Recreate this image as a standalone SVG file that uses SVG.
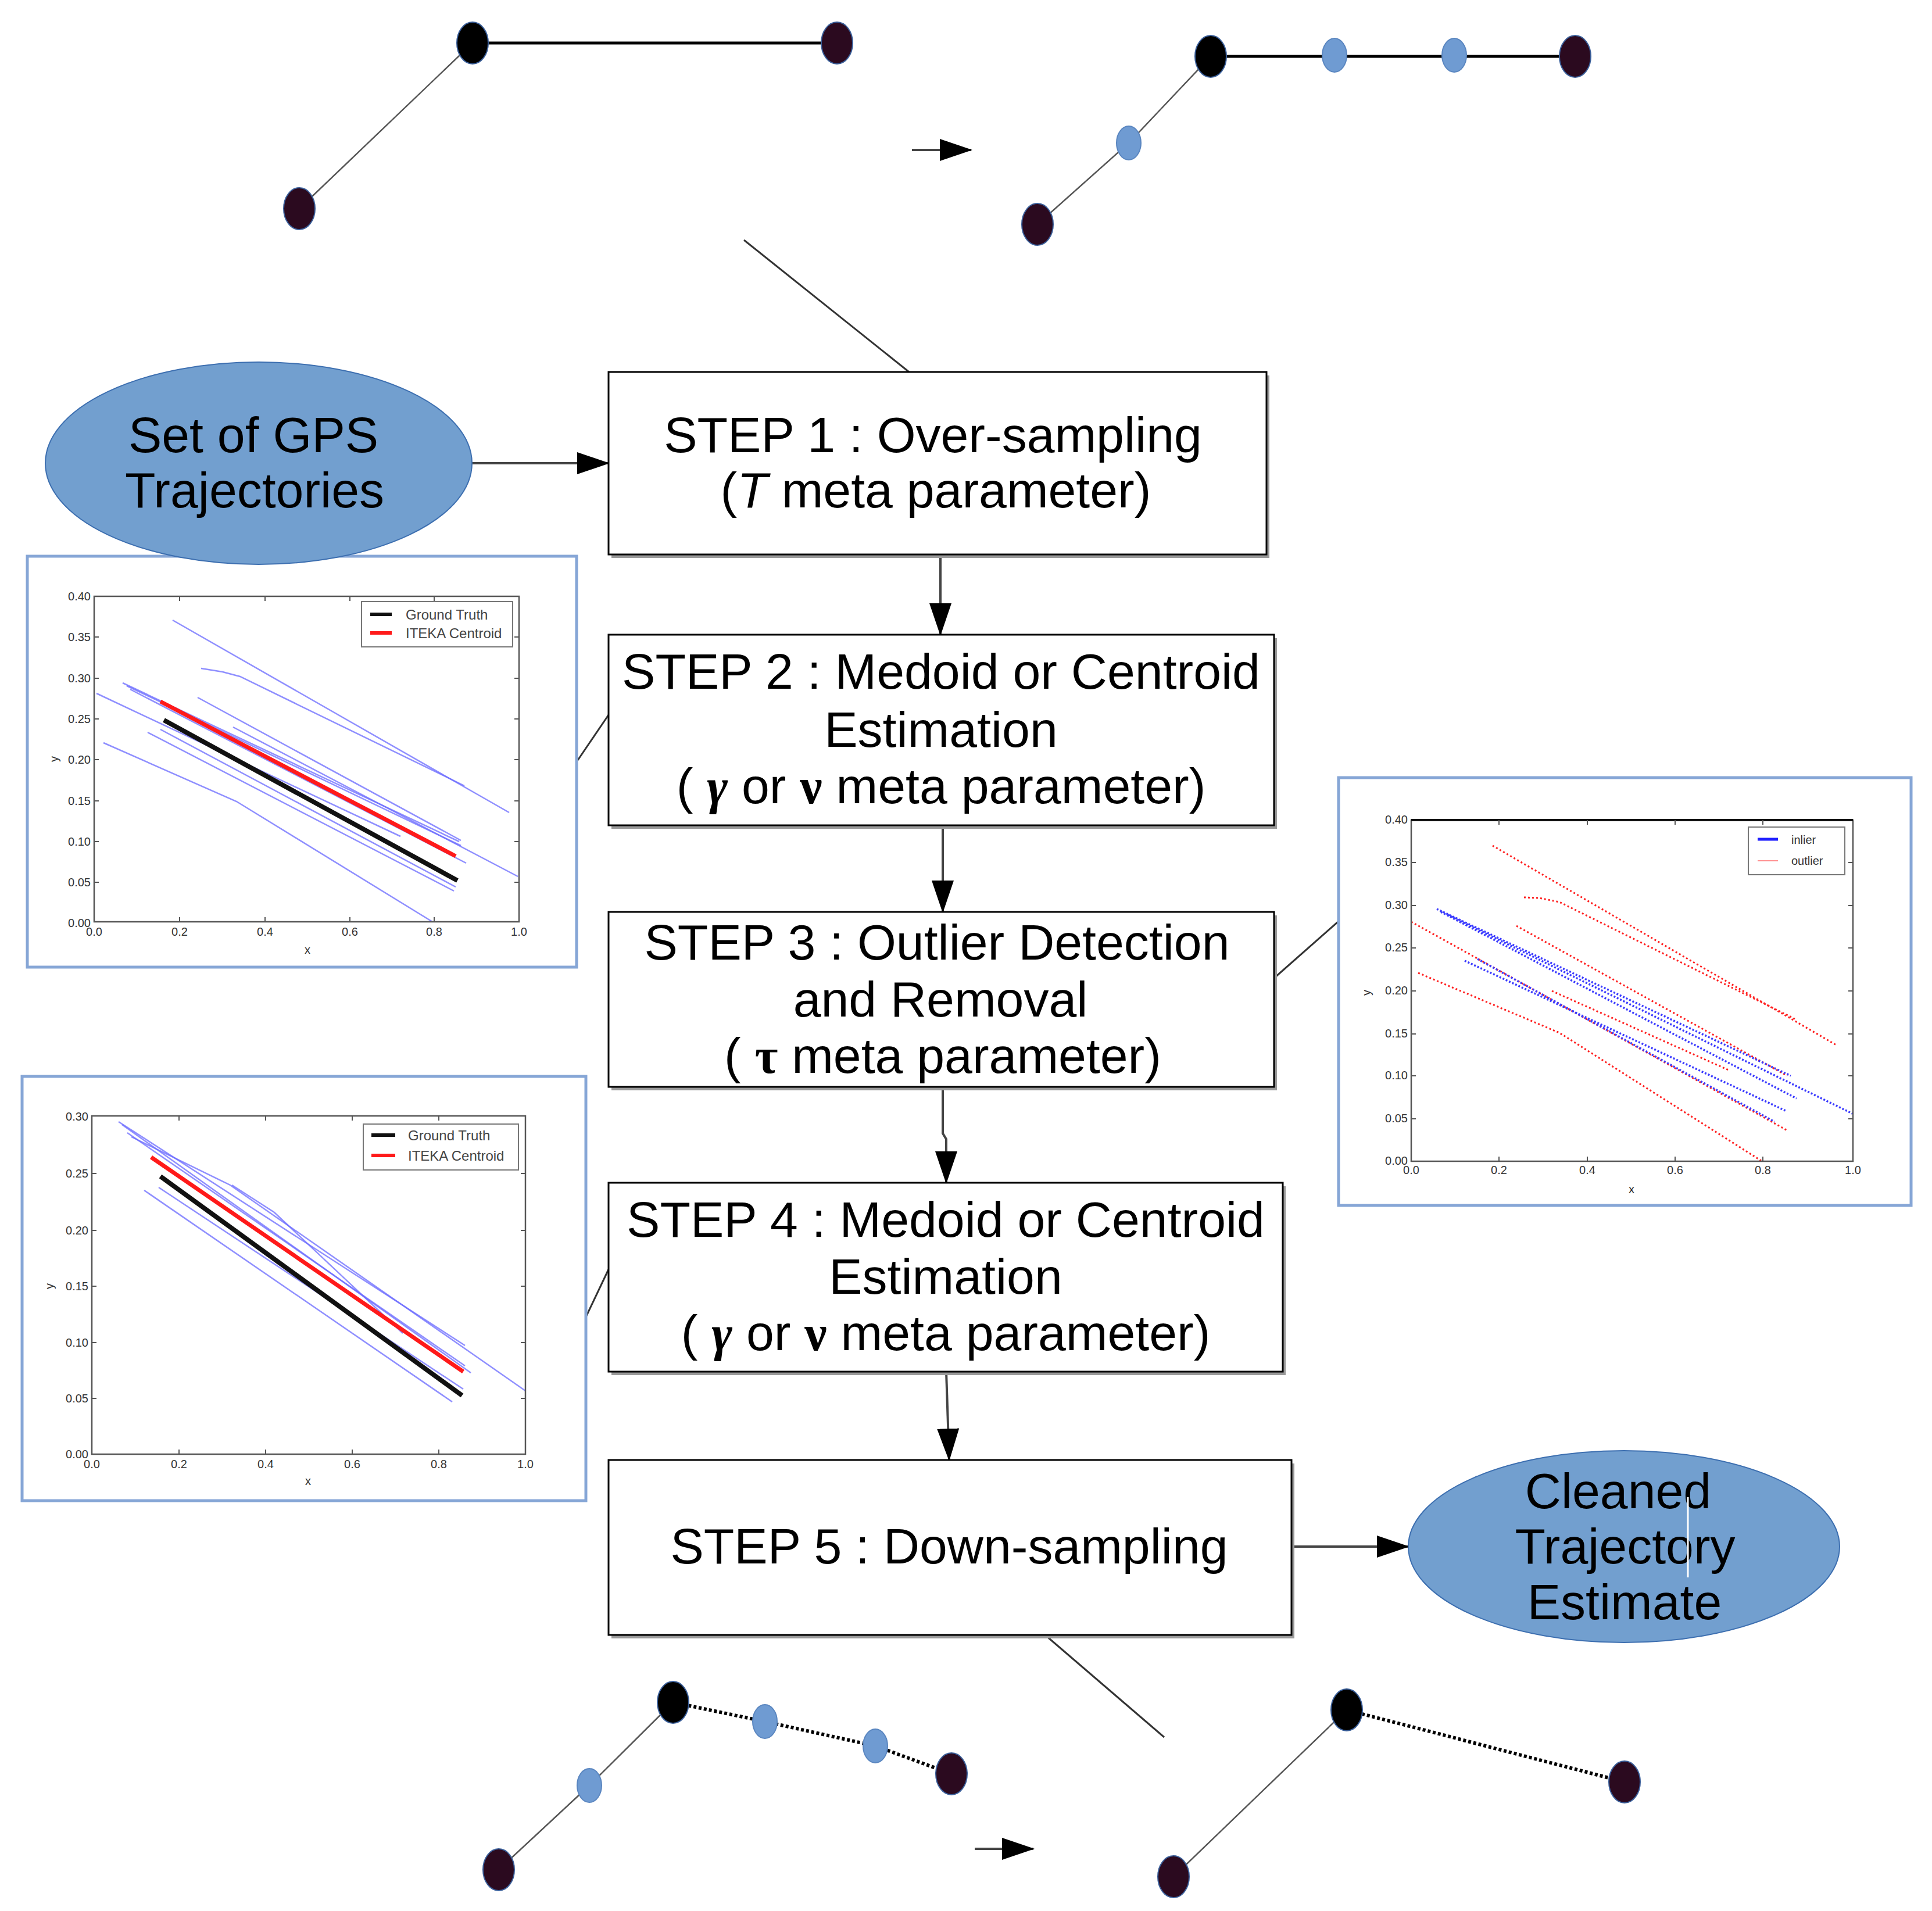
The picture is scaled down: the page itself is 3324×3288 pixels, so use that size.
<svg xmlns="http://www.w3.org/2000/svg" width="3324" height="3288" viewBox="0 0 3324 3288">
<defs>
<marker id="ah" markerUnits="userSpaceOnUse" markerWidth="56" markerHeight="38" refX="54" refY="19" orient="auto">
<path d="M0,0 L56,19 L0,38 Z" fill="#000"/>
</marker>
</defs>
<style>
.box{fill:#fff;stroke:#000;stroke-width:3}
.shadow{fill:#9a9a9a}
.lbl{font-family:"Liberation Sans",Arial,sans-serif;font-size:86px;fill:#000;text-anchor:middle}
.gr{font-family:"Liberation Serif","Times New Roman",serif;font-weight:bold}
.conn{stroke:#333;stroke-width:3;fill:none}
.arrow{stroke:#444;stroke-width:4;fill:none}
.blob{fill:#729fcf;stroke:#3d6fb0;stroke-width:2}
.frame{fill:#fff;stroke:#86a6d6;stroke-width:5}
.axes{fill:none;stroke:#555;stroke-width:2.5}
.tick{font-family:"Liberation Sans",Arial,sans-serif;font-size:20px;fill:#333}
.leg{font-family:"Liberation Sans",Arial,sans-serif;font-size:24px;fill:#444}
.bl{stroke:#6a6aff;stroke-width:2.5;fill:none;opacity:0.75}
.bd{stroke:#3b3bff;stroke-width:3.5;fill:none;stroke-dasharray:3,3}
.rd{stroke:#ff2020;stroke-width:3;fill:none;stroke-dasharray:3,4}
.nd{fill:#2b0a1f;stroke:#3a5f9a;stroke-width:2}
.nb{fill:#000;stroke:#3a5f9a;stroke-width:2}
.nl{fill:#6f9bd2;stroke:#5a86c0;stroke-width:2}
.tl{stroke:#555;stroke-width:2.5;fill:none}
.tk{stroke:#000;stroke-width:5;fill:none}
.td{stroke:#000;stroke-width:6;fill:none;stroke-dasharray:5,4}
</style>

<g id="connectors">
<line class="arrow" x1="812" y1="797" x2="1047" y2="797" marker-end="url(#ah)"/>
<line class="arrow" x1="1618" y1="954" x2="1618" y2="1092" marker-end="url(#ah)"/>
<line class="arrow" x1="1622" y1="1420" x2="1622" y2="1569" marker-end="url(#ah)"/>
<polyline class="arrow" points="1622,1870 1622,1950 1628,1960 1628,2035" marker-end="url(#ah)"/>
<line class="arrow" x1="1628" y1="2360" x2="1633" y2="2512" marker-end="url(#ah)"/>
<line class="arrow" x1="2222" y1="2661" x2="2423" y2="2661" marker-end="url(#ah)"/>
<line class="arrow" x1="1569" y1="258" x2="1671" y2="258" marker-end="url(#ah)"/>
<line class="arrow" x1="1677" y1="3181" x2="1778" y2="3181" marker-end="url(#ah)"/>
<line class="conn" x1="1280" y1="413" x2="1564" y2="640"/>
<line class="conn" x1="1798" y1="2813" x2="2003" y2="2989"/>
<line class="conn" x1="994" y1="1308" x2="1047" y2="1230"/>
<line class="conn" x1="2184" y1="1690" x2="2302" y2="1586"/>
<line class="conn" x1="1009" y1="2264" x2="1047" y2="2184"/>
</g>

<g id="plot1">
<rect class="frame" x="47" y="957" width="945" height="707"/>
<polyline class="bl" points="297,1067 876,1398"/>
<polyline class="bl" points="346,1150 383,1156 413,1164 799,1352"/>
<polyline class="bl" points="211,1175 790,1448"/>
<polyline class="bl" points="218,1180 793,1455"/>
<polyline class="bl" points="224,1186 802,1485"/>
<polyline class="bl" points="340,1200 793,1446"/>
<polyline class="bl" points="166,1193 689,1439"/>
<polyline class="bl" points="254,1260 781,1533"/>
<polyline class="bl" points="276,1255 784,1526"/>
<polyline class="bl" points="178,1278 407,1379 744,1586"/>
<polyline class="bl" points="401,1251 891,1508"/>
<line x1="276" y1="1207" x2="784" y2="1473" stroke="#ff1a1a" stroke-width="7"/>
<line x1="282" y1="1239" x2="787" y2="1515" stroke="#111" stroke-width="8"/>
<rect class="axes" x="162" y="1026" width="731" height="560"/>
<path stroke="#555" stroke-width="2" d="M162,1096h8M162,1167h8M162,1237h8M162,1307h8M162,1378h8M162,1448h8M162,1518h8M893,1096h-8M893,1167h-8M893,1237h-8M893,1307h-8M893,1378h-8M893,1448h-8M893,1518h-8M309,1586v-8M456,1586v-8M602,1586v-8M747,1586v-8M309,1026v8M456,1026v8M602,1026v8M747,1026v8"/>
<rect x="622" y="1035" width="260" height="78" fill="#fff" stroke="#777" stroke-width="2"/>
<line x1="637" y1="1057" x2="674" y2="1057" stroke="#111" stroke-width="6"/>
<line x1="637" y1="1089" x2="674" y2="1089" stroke="#ff1a1a" stroke-width="6"/>
<text class="leg" x="698" y="1066">Ground Truth</text>
<text class="leg" x="698" y="1098">ITEKA Centroid</text>
<g class="tick" text-anchor="end">
<text x="156" y="1033">0.40</text><text x="156" y="1103">0.35</text><text x="156" y="1174">0.30</text><text x="156" y="1244">0.25</text><text x="156" y="1314">0.20</text><text x="156" y="1385">0.15</text><text x="156" y="1455">0.10</text><text x="156" y="1525">0.05</text><text x="156" y="1595">0.00</text>
</g>
<g class="tick" text-anchor="middle">
<text x="162" y="1610">0.0</text><text x="309" y="1610">0.2</text><text x="456" y="1610">0.4</text><text x="602" y="1610">0.6</text><text x="747" y="1610">0.8</text><text x="893" y="1610">1.0</text>
<text x="529" y="1641">x</text>
<text transform="translate(100,1306) rotate(-90)">y</text>
</g>
</g>

<g id="plot2">
<rect class="frame" x="38" y="1852" width="970" height="730"/>
<polyline class="bl" points="204,1930 800,2315"/>
<polyline class="bl" points="210,1935 810,2362"/>
<polyline class="bl" points="219,1949 800,2350"/>
<polyline class="bl" points="226,1956 396,2039 904,2393"/>
<polyline class="bl" points="248,2048 778,2412"/>
<polyline class="bl" points="273,2043 797,2390"/>
<polyline class="bl" points="399,2039 472,2086 693,2294"/>
<line x1="260" y1="1991" x2="797" y2="2360" stroke="#ff1a1a" stroke-width="7"/>
<line x1="276" y1="2024" x2="795" y2="2401" stroke="#111" stroke-width="8"/>
<rect class="axes" x="158" y="1920" width="746" height="582"/>
<path stroke="#555" stroke-width="2" d="M158,2019h8M158,2117h8M158,2213h8M158,2310h8M158,2406h8M904,2019h-8M904,2117h-8M904,2213h-8M904,2310h-8M904,2406h-8M308,2502v-8M457,2502v-8M606,2502v-8M755,2502v-8M308,1920v8M457,1920v8M606,1920v8M755,1920v8"/>
<rect x="625" y="1934" width="267" height="79" fill="#fff" stroke="#777" stroke-width="2"/>
<line x1="639" y1="1953" x2="680" y2="1953" stroke="#111" stroke-width="6"/>
<line x1="639" y1="1988" x2="680" y2="1988" stroke="#ff1a1a" stroke-width="6"/>
<text class="leg" x="702" y="1962">Ground Truth</text>
<text class="leg" x="702" y="1997">ITEKA Centroid</text>
<g class="tick" text-anchor="end">
<text x="152" y="1928">0.30</text><text x="152" y="2026">0.25</text><text x="152" y="2124">0.20</text><text x="152" y="2220">0.15</text><text x="152" y="2317">0.10</text><text x="152" y="2413">0.05</text><text x="152" y="2509">0.00</text>
</g>
<g class="tick" text-anchor="middle">
<text x="158" y="2526">0.0</text><text x="308" y="2526">0.2</text><text x="457" y="2526">0.4</text><text x="606" y="2526">0.6</text><text x="755" y="2526">0.8</text><text x="904" y="2526">1.0</text>
<text x="530" y="2555">x</text>
<text transform="translate(92,2213) rotate(-90)">y</text>
</g>
</g>

<g id="plot3">
<rect class="frame" x="2303" y="1338" width="985" height="736"/>
<polyline class="rd" points="2568,1455 3161,1799"/>
<polyline class="rd" points="2622,1544 2648,1545 2683,1552 3088,1753"/>
<polyline class="rd" points="2428,1586 3075,1945"/>
<polyline class="rd" points="2609,1593 3075,1851"/>
<polyline class="rd" points="2670,1705 2976,1842"/>
<polyline class="rd" points="2440,1674 2683,1777 3030,1997"/>
<polyline class="bd" points="2472,1564 3081,1851"/>
<polyline class="bd" points="2479,1569 3091,1890"/>
<polyline class="bd" points="2491,1574 3187,1916"/>
<polyline class="bd" points="2520,1653 3072,1911"/>
<polyline class="bd" points="2542,1650 3053,1930"/>
<rect class="axes" x="2428" y="1411" width="760" height="587"/>
<line x1="2428" y1="1411" x2="3188" y2="1411" stroke="#111" stroke-width="4"/>
<path stroke="#555" stroke-width="2" d="M2428,1484h8M2428,1558h8M2428,1631h8M2428,1705h8M2428,1779h8M2428,1851h8M2428,1925h8M3188,1484h-8M3188,1558h-8M3188,1631h-8M3188,1705h-8M3188,1779h-8M3188,1851h-8M3188,1925h-8M2579,1998v-8M2731,1998v-8M2882,1998v-8M3033,1998v-8M2579,1411v8M2731,1411v8M2882,1411v8M3033,1411v8"/>
<rect x="3008" y="1423" width="166" height="82" fill="#fff" stroke="#777" stroke-width="2"/>
<line x1="3024" y1="1444" x2="3059" y2="1444" stroke="#2020ff" stroke-width="5"/>
<line x1="3024" y1="1481" x2="3059" y2="1481" stroke="#ff9090" stroke-width="2"/>
<text class="tick" x="3082" y="1452">inlier</text>
<text class="tick" x="3082" y="1488">outlier</text>
<g class="tick" text-anchor="end" font-size="17">
<text x="2422" y="1417">0.40</text><text x="2422" y="1490">0.35</text><text x="2422" y="1564">0.30</text><text x="2422" y="1637">0.25</text><text x="2422" y="1711">0.20</text><text x="2422" y="1785">0.15</text><text x="2422" y="1857">0.10</text><text x="2422" y="1931">0.05</text><text x="2422" y="2004">0.00</text>
</g>
<g class="tick" text-anchor="middle" font-size="17">
<text x="2428" y="2020">0.0</text><text x="2579" y="2020">0.2</text><text x="2731" y="2020">0.4</text><text x="2882" y="2020">0.6</text><text x="3033" y="2020">0.8</text><text x="3188" y="2020">1.0</text>
<text x="2807" y="2053">x</text>
<text transform="translate(2358,1708) rotate(-90)">y</text>
</g>
</g>

<g id="input">
<ellipse class="blob" cx="445" cy="797" rx="367" ry="174"/>
<text class="lbl" x="436" y="778">Set of GPS</text>
<text class="lbl" x="438" y="873">Trajectories</text>
</g>

<g id="step1">
<rect class="shadow" x="1052" y="646" width="1132" height="314"/>
<rect class="box" x="1047" y="640" width="1132" height="314"/>
<text class="lbl" x="1605" y="778">STEP 1 : Over-sampling</text>
<text class="lbl" x="1610" y="873">(<tspan font-style="italic">T</tspan> meta parameter)</text>
</g>

<g id="step2">
<rect class="shadow" x="1052" y="1098" width="1145" height="328"/>
<rect class="box" x="1047" y="1092" width="1145" height="328"/>
<text class="lbl" x="1619" y="1185">STEP 2 : Medoid or Centroid</text>
<text class="lbl" x="1619" y="1285">Estimation</text>
<text class="lbl" x="1619" y="1382">( <tspan class="gr" font-style="italic">γ</tspan> or <tspan class="gr">ν</tspan> meta parameter)</text>
</g>

<g id="step3">
<rect class="shadow" x="1052" y="1575" width="1145" height="301"/>
<rect class="box" x="1047" y="1569" width="1145" height="301"/>
<text class="lbl" x="1612" y="1651">STEP 3 : Outlier Detection</text>
<text class="lbl" x="1618" y="1749">and Removal</text>
<text class="lbl" x="1622" y="1846">( <tspan class="gr">τ</tspan> meta parameter)</text>
</g>

<g id="step4">
<rect class="shadow" x="1052" y="2041" width="1160" height="325"/>
<rect class="box" x="1047" y="2035" width="1160" height="325"/>
<text class="lbl" x="1627" y="2128">STEP 4 : Medoid or Centroid</text>
<text class="lbl" x="1627" y="2226">Estimation</text>
<text class="lbl" x="1627" y="2323">( <tspan class="gr" font-style="italic">γ</tspan> or <tspan class="gr">ν</tspan> meta parameter)</text>
</g>

<g id="step5">
<rect class="shadow" x="1052" y="2518" width="1175" height="301"/>
<rect class="box" x="1047" y="2512" width="1175" height="301"/>
<text class="lbl" x="1633" y="2690">STEP 5 : Down-sampling</text>
</g>

<g id="output">
<ellipse class="blob" cx="2794" cy="2661" rx="371" ry="165"/>
<text class="lbl" x="2784" y="2595">Cleaned</text>
<text class="lbl" x="2796" y="2690">Trajectory</text>
<text class="lbl" x="2795" y="2786">Estimate</text>
<line x1="2904" y1="2576" x2="2904" y2="2714" stroke="#fff" stroke-width="3"/>
</g>

<g id="traj-top-left">
<line class="tl" x1="515" y1="359" x2="813" y2="74"/>
<line class="tk" x1="813" y1="74" x2="1440" y2="74"/>
<ellipse class="nd" cx="515" cy="359" rx="27" ry="36"/>
<ellipse class="nb" cx="813" cy="74" rx="27" ry="36"/>
<ellipse class="nd" cx="1440" cy="74" rx="27" ry="36"/>
</g>

<g id="traj-top-right">
<polyline class="tl" points="1785,386 1942,246 2083,97"/>
<line class="tk" x1="2083" y1="97" x2="2710" y2="97"/>
<ellipse class="nd" cx="1785" cy="386" rx="27" ry="36"/>
<ellipse class="nl" cx="1942" cy="246" rx="21" ry="29"/>
<ellipse class="nb" cx="2083" cy="97" rx="27" ry="36"/>
<ellipse class="nl" cx="2296" cy="95" rx="21" ry="29"/>
<ellipse class="nl" cx="2502" cy="95" rx="21" ry="29"/>
<ellipse class="nd" cx="2710" cy="97" rx="27" ry="36"/>
</g>

<g id="traj-bottom-left">
<polyline class="tl" points="858,3217 1014,3072 1158,2929"/>
<polyline class="td" points="1158,2929 1316,2962 1506,3004 1637,3052"/>
<ellipse class="nd" cx="858" cy="3217" rx="27" ry="36"/>
<ellipse class="nl" cx="1014" cy="3072" rx="21" ry="29"/>
<ellipse class="nb" cx="1158" cy="2929" rx="27" ry="36"/>
<ellipse class="nl" cx="1316" cy="2962" rx="21" ry="29"/>
<ellipse class="nl" cx="1506" cy="3004" rx="21" ry="29"/>
<ellipse class="nd" cx="1637" cy="3052" rx="27" ry="36"/>
</g>

<g id="traj-bottom-right">
<line class="tl" x1="2019" y1="3229" x2="2317" y2="2942"/>
<line class="td" x1="2317" y1="2942" x2="2795" y2="3066"/>
<ellipse class="nd" cx="2019" cy="3229" rx="27" ry="36"/>
<ellipse class="nb" cx="2317" cy="2942" rx="27" ry="36"/>
<ellipse class="nd" cx="2795" cy="3066" rx="27" ry="36"/>
</g>
</svg>
